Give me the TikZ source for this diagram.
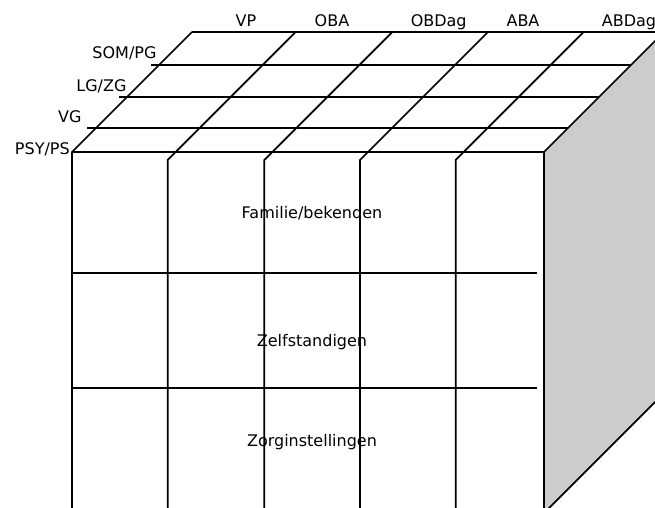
\documentclass[tikz,border=0pt]{standalone}
\usepackage{fontspec}
\setmainfont{DejaVu Sans}
\begin{document}
\begin{tikzpicture}[x=0.75pt,y=-0.75pt]
        \tikzstyle{wire}=[draw=black,line width=1.3pt]
        \tikzstyle{axisname}=[inner sep=0pt,font=\fontsize{12}{14}\selectfont]
        \clip (0,0) rectangle (655,507);
       \begin{scope}
         % corners of the block
         \coordinate (fl) at (72,152);
         \coordinate (fr) at (544,152);
         \coordinate (bl) at (192,32);
         \coordinate (br) at (664,32);
         \coordinate (fbl) at (72,513);
         \coordinate (fbr) at (544,513);
         \coordinate (bbr) at (664,393);
         % shaded side face
         \fill[black!20] (fr) -- (br) -- (bbr) -- (fbr) -- cycle;
         \path[wire] (fr) -- (br);
         \path[wire] (fbr) -- (bbr);
         % outline of top and front
         \path[wire] (bl) -- (br);
         \path[wire] (fl) -- (fr);
         \path[wire] (bl) -- (fl) -- (fbl);
         \path[wire] (fr) -- (fbr);
         % rows on the top face
         \path[wire] (151,65) -- (631,65);
         \path[wire] (119,97) -- (599,97);
         \path[wire] (87,128) -- (568,128);
         % columns running over top and front
         \path[wire] (295.7,32) -- (167.7,160) -- (167.7,513);
         \path[wire] (392.3,32) -- (264.3,160) -- (264.3,513);
         \path[wire] (488,32) -- (360,160) -- (360,513);
         \path[wire] (583.7,32) -- (455.7,160) -- (455.7,513);
         % rows on the front face
         \path[wire] (72,273) -- (536.7,273);
         \path[wire] (72,388) -- (536.7,388);
        \end{scope}
        % column names
        \node [axisname,anchor=base] (vp) at (246,26.7) {VP};
        \node [axisname,anchor=base] (oba) at (332,26.7) {OBA};
        \node [axisname,anchor=base] (obdag) at (438.7,26.7) {OBDag};
        \node [axisname,anchor=base] (aba) at (523,26.7) {ABA};
        \node [axisname,anchor=base] (abdag) at (629,26.7) {ABDag};
        % row names
        \node [axisname,anchor=base east] (som) at (156.7,58.3) {SOM/PG};
        \node [axisname,anchor=base east] (lg) at (126.7,91.7) {LG/ZG};
        \node [axisname,anchor=base east] (vg) at (81.7,122.7) {VG};
        \node [axisname,anchor=base east] (psy) at (70,154) {PSY/PS};
        % front layers
        \node [axisname,anchor=base] (fam) at (312,218.3) {Familie/bekenden};
        \node [axisname,anchor=base] (zelf) at (312,346.7) {Zelfstandigen};
        \node [axisname,anchor=base] (zorg) at (312,446.5) {Zorginstellingen};
      \end{tikzpicture}
\end{document}
